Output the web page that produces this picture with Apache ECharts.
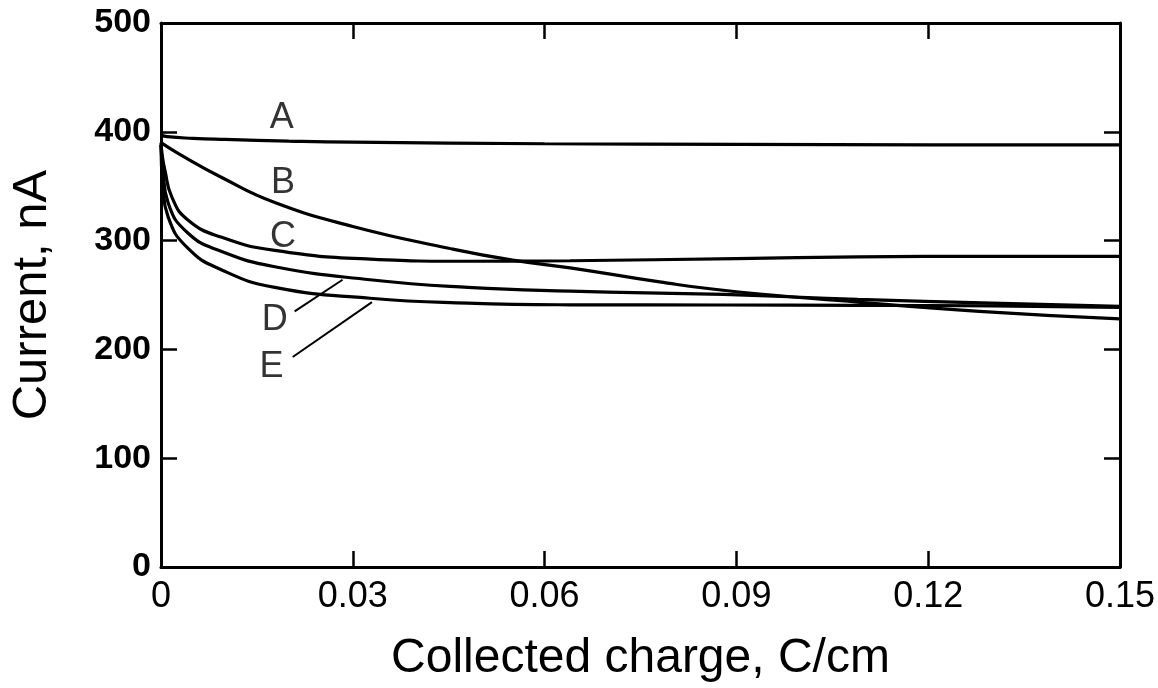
<!DOCTYPE html>
<html>
<head>
<meta charset="utf-8">
<script src="https://cdn.jsdelivr.net/npm/echarts@6/dist/echarts.min.js"></script>
<style>
  html, body { margin: 0; padding: 0; background: #fff; }
  #chart { width: 1158px; height: 688px; }
</style>
</head>
<body>
<div id="chart"></div>
<script>
// x ticks / y ticks
var xTicks = [0, 0.03, 0.06, 0.09, 0.12, 0.15];
var yTicks = [0, 100, 200, 300, 400, 500];

// curves (charge C/cm, current nA)
var aX = [0, 0.001, 0.005, 0.01, 0.02, 0.03, 0.06, 0.09, 0.12, 0.15];
var aY = [397, 395.5, 394, 393, 391.5, 390.5, 389, 388.5, 388, 388];

var bX = [0, 0.003, 0.0095, 0.0178, 0.03, 0.045, 0.055, 0.064, 0.078, 0.09, 0.109, 0.128, 0.15];
var bY = [390, 379, 358, 335, 313, 293, 282, 275, 262, 253, 243.5, 235, 228];

var cX = [0, 0.0002, 0.0006, 0.0017, 0.0042, 0.0095, 0.0178, 0.0327, 0.048, 0.064, 0.09, 0.109, 0.13, 0.15];
var cY = [390, 378, 365, 340, 319, 303, 291, 283, 281, 281.5, 283.5, 285, 285.5, 285.5];

var dX = [0, 0.0003, 0.0011, 0.0042, 0.0095, 0.0178, 0.0327, 0.048, 0.064, 0.088, 0.109, 0.13, 0.15];
var dY = [388, 365, 335, 307, 290, 276, 264, 257, 253.5, 250.5, 246, 242.5, 239.5];

var eX = [0, 0.0003, 0.0011, 0.0042, 0.0095, 0.0178, 0.0327, 0.048, 0.064, 0.088, 0.109, 0.13, 0.15];
var eY = [388, 350, 322, 293, 273, 257, 247, 242.5, 241, 240.8, 240.5, 240, 238.5];

// curve letters and leader lines
var labelNames = ['A', 'B', 'C', 'D', 'E'];
var labelX = [0.0189, 0.0191, 0.0191, 0.0178, 0.0173];
var labelY = [413, 353, 303, 227, 184];
var leaderD = [[0.0209, 235], [0.0284, 264]];
var leaderE = [[0.0206, 193], [0.033, 243.5]];

function pairs(xs, ys) {
  var out = [];
  for (var i = 0; i < xs.length; i++) out.push([xs[i], ys[i]]);
  return out;
}

var chart = echarts.init(document.getElementById('chart'));

var axisLine = { show: true, onZero: false, lineStyle: { color: '#000', width: 3 } };
var tick = { show: true, inside: true, length: 16, lineStyle: { color: '#000', width: 2.5 } };
var font = 'Liberation Sans, Arial, Helvetica, sans-serif';

function curve(name, xs, ys) {
  return {
    name: name, type: 'line', data: pairs(xs, ys),
    xAxisIndex: 0, yAxisIndex: 0,
    showSymbol: false, symbol: 'none',
    smooth: 0.5,
    lineStyle: { color: '#000', width: 3.2 }
  };
}

function leader(pts) {
  return {
    type: 'line', data: pts, symbol: 'none',
    lineStyle: { color: '#000', width: 2 }, silent: true
  };
}

var option = {
  animation: false,
  backgroundColor: '#fff',
  grid: { left: 161, top: 23, right: 37, bottom: 121, containLabel: false },
  xAxis: [{
    type: 'value', min: xTicks[0], max: xTicks[xTicks.length - 1], interval: 0.03,
    position: 'bottom',
    axisLine: axisLine, axisTick: tick, splitLine: { show: false },
    axisLabel: {
      color: '#000', fontSize: 36, fontFamily: font, margin: 12,
      formatter: function (v) { return v === 0 ? '0' : v.toFixed(2); }
    },
    name: 'Collected charge, C/cm', nameLocation: 'middle', nameGap: 68,
    nameTextStyle: { color: '#000', fontSize: 48, fontFamily: font }
  }, {
    type: 'value', min: xTicks[0], max: xTicks[xTicks.length - 1], interval: 0.03,
    position: 'top',
    axisLine: axisLine, axisTick: tick, splitLine: { show: false },
    axisLabel: { show: false }
  }],
  yAxis: [{
    type: 'value', min: yTicks[0], max: yTicks[yTicks.length - 1], interval: 100,
    position: 'left',
    axisLine: axisLine, axisTick: tick, splitLine: { show: false },
    axisLabel: { color: '#000', fontSize: 34, fontWeight: 'bold', fontFamily: font, margin: 10 },
    name: 'Current, nA', nameLocation: 'middle', nameGap: 104, nameRotate: 90,
    nameTextStyle: { color: '#000', fontSize: 49, fontFamily: font }
  }, {
    type: 'value', min: yTicks[0], max: yTicks[yTicks.length - 1], interval: 100,
    position: 'right',
    axisLine: axisLine, axisTick: tick, splitLine: { show: false },
    axisLabel: { show: false }
  }],
  series: [
    curve('A', aX, aY),
    curve('B', bX, bY),
    curve('C', cX, cY),
    curve('D', dX, dY),
    curve('E', eX, eY),
    leader(leaderD),
    leader(leaderE),
    {
      type: 'scatter', symbolSize: 0, silent: true,
      itemStyle: { color: '#000' },
      data: labelNames.map(function (n, i) { return { name: n, value: [labelX[i], labelY[i]] }; }),
      label: {
        show: true, position: 'inside', color: '#000',
        textBorderWidth: 0,
        fontSize: 36, fontFamily: font,
        formatter: function (p) { return p.name; }
      }
    }
  ]
};

chart.setOption(option);
</script>
</body>
</html>
